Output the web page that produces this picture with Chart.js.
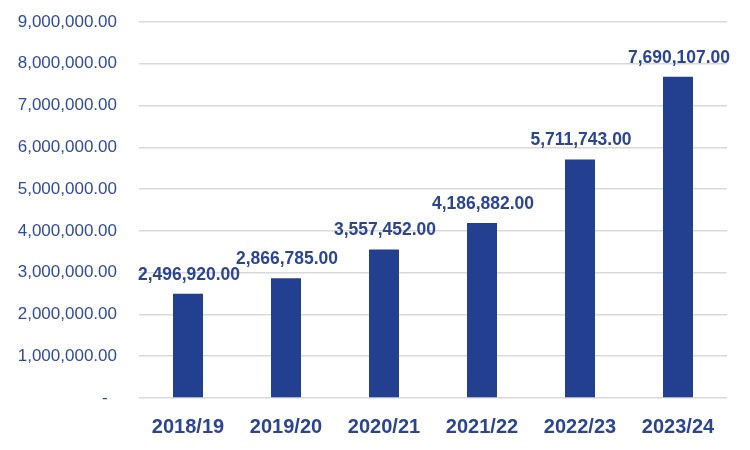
<!DOCTYPE html>
<html>
<head>
<meta charset="utf-8">
<script src="https://cdn.jsdelivr.net/npm/chart.js@4"></script>
<style>
  html, body { margin: 0; padding: 0; background: #fff; }
  #wrap { width: 750px; height: 450px; }
</style>
</head>
<body>
<div id="wrap"><canvas id="revenueChart" width="750" height="450"></canvas></div>
<script>
const years = ['2018/19', '2019/20', '2020/21', '2021/22', '2022/23', '2023/24'];
const amounts = [2496920, 2866785, 3557452, 4186882, 5711743, 7690107];
const yMax = 9000000;
const yStep = 1000000;

const fmt = (v) => v.toLocaleString('en-US', { minimumFractionDigits: 2, maximumFractionDigits: 2 });

// simple inline value labels above each bar
const valueLabels = {
    id: 'valueLabels',
    afterDatasetsDraw(chart) {
        const ctx = chart.ctx;
        const meta = chart.getDatasetMeta(0);
        ctx.save();
        ctx.font = 'bold 17.5px "Liberation Sans", Arial, sans-serif';
        ctx.fillStyle = '#2B4592';
        ctx.textAlign = 'center';
        ctx.textBaseline = 'middle';
        meta.data.forEach((bar, i) => {
            ctx.fillText(fmt(amounts[i]), bar.x + 1, bar.y - 19);
        });
        ctx.restore();
    }
};

const ctx = document.querySelector('#revenueChart');
new Chart(ctx, {
    type: 'bar',
    data: {
        labels: years,
        datasets: [{
            data: amounts,
            backgroundColor: '#233F8F',
            borderWidth: 0,
            categoryPercentage: 1,
            barPercentage: 30 / 98
        }]
    },
    options: {
        responsive: false,
        animation: false,
        layout: { padding: { top: 22, right: 23, left: 0, bottom: 0 } },
        plugins: {
            legend: { display: false },
            tooltip: { enabled: false }
        },
        scales: {
            x: {
                grid: { display: false },
                border: { display: false },
                ticks: {
                    color: '#2B4592',
                    font: { family: '"Liberation Sans", Arial, sans-serif', size: 20, weight: 'bold' },
                    padding: 9
                },
                afterFit(scale) { scale.height = 52; }
            },
            y: {
                min: 0,
                max: yMax,
                grid: { color: '#D9D9D9', lineWidth: 1.5, drawTicks: false },
                border: { display: false },
                ticks: {
                    stepSize: yStep,
                    color: '#2F4B9B',
                    font: { family: '"Liberation Sans", Arial, sans-serif', size: 17 },
                    padding: 22,
                    callback: (v) => v === 0 ? '-  ' : fmt(v)
                },
                afterFit(scale) {
                    scale.width = 139;
                    scale.paddingTop = 0;
                    scale.paddingBottom = 0;
                }
            }
        }
    },
    plugins: [valueLabels]
});
</script>
</body>
</html>
